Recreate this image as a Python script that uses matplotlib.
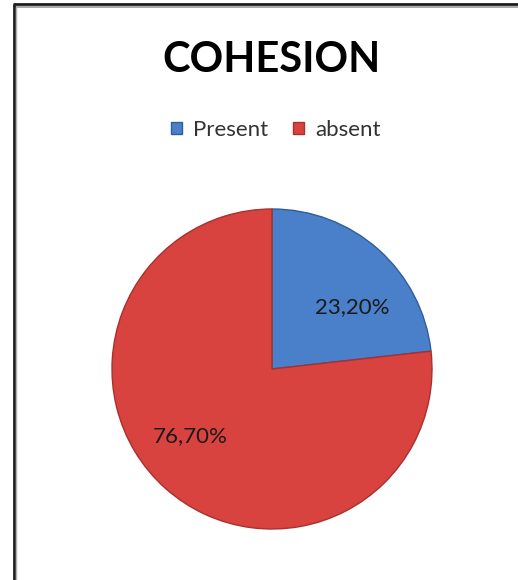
import matplotlib
matplotlib.use("Agg")
import matplotlib.pyplot as plt
from matplotlib.lines import Line2D

labels = ["Present", "absent"]
values = [23.2, 76.7]
value_text = ["23,20%", "76,70%"]
colors = ["#4A7FC9", "#D8433F"]
edge_colors = ["#2F5E9A", "#A8302D"]

W, H = 518, 580
fig = plt.figure(figsize=(W / 100, H / 100), dpi=100)
fig.patch.set_facecolor("white")
font = ["Lato", "DejaVu Sans"]

# frame (left and top only)
fig.add_artist(Line2D([13.5 / W, 13.5 / W], [0, 1 - 4 / H], transform=fig.transFigure,
                      color="#1e1e1e", linewidth=2.0, solid_capstyle="butt"))
fig.add_artist(Line2D([12.5 / W, 1], [1 - 4 / H, 1 - 4 / H], transform=fig.transFigure,
                      color="#1e1e1e", linewidth=2.0, solid_capstyle="butt"))
fig.add_artist(Line2D([16 / W, 1], [1 - 6.5 / H, 1 - 6.5 / H], transform=fig.transFigure,
                      color="#9a9a9a", linewidth=1.2, solid_capstyle="butt"))
fig.add_artist(Line2D([16 / W, 16 / W], [0, 1 - 6.5 / H], transform=fig.transFigure,
                      color="#b0b0b0", linewidth=1.0, solid_capstyle="butt"))

fig.text(272 / W, 1 - 60 / H, "COHESION", ha="center", va="center",
         fontsize=30, fontweight="bold", family=font, color="black")

ax = fig.add_axes([112 / W, 51 / H, 320 / W, 320 / H])
wedges, _ = ax.pie(values, colors=colors, startangle=90, counterclock=False,
                   radius=1.0, wedgeprops=dict(linewidth=1.0))
for w, ec in zip(wedges, edge_colors):
    w.set_edgecolor(ec)
ax.set_xlim(-1, 1)
ax.set_ylim(-1, 1)
ax.set_aspect("equal")
ax.axis("off")

# value labels
ax.text(0.50, 0.39, value_text[0], ha="center", va="center", fontsize=16,
        family=font, color="#1a1a1a")
ax.text(-0.51, -0.42, value_text[1], ha="center", va="center", fontsize=16,
        family=font, color="#1a1a1a")

leg = fig.legend(wedges, labels, loc="center", bbox_to_anchor=(276 / W, 1 - 130 / H),
                 ncol=2, frameon=False, handlelength=0.5, handleheight=0.5,
                 handletextpad=0.5, columnspacing=1.1, prop={"family": font, "size": 16})
for t in leg.get_texts():
    t.set_color("#333333")

fig.savefig("out.png", dpi=100)
